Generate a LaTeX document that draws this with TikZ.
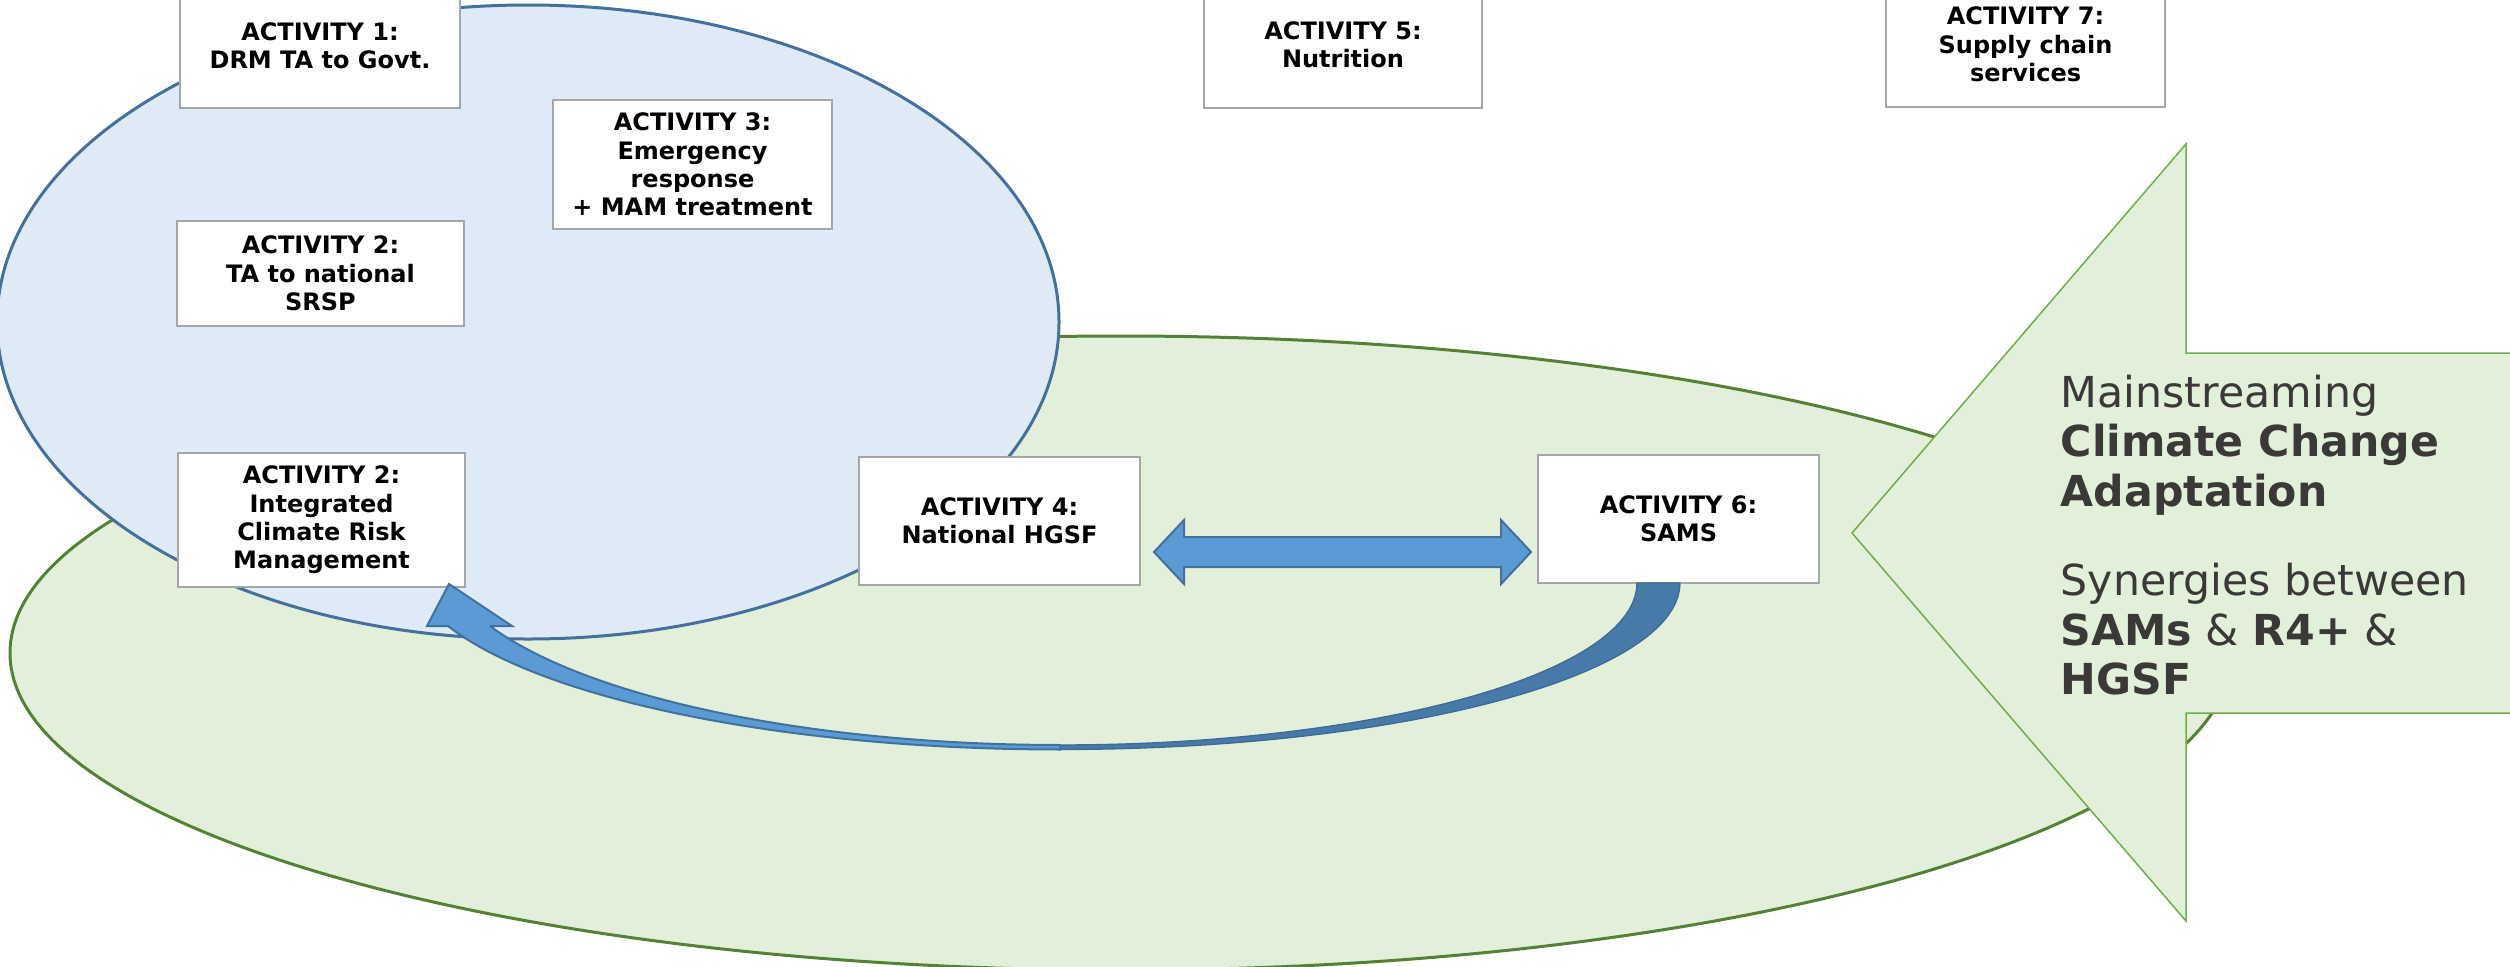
\documentclass[tikz,border=0pt]{standalone}
\usepackage{fontspec}
\usetikzlibrary{calc}
\setmainfont{DejaVu Sans}
\definecolor{blueFill}{HTML}{DEEBF7}
\definecolor{blueLine}{HTML}{41719C}
\definecolor{greenFill}{HTML}{E2F0D9}
\definecolor{greenLine}{HTML}{548235}
\definecolor{arrGreenLine}{HTML}{70AD47}
\definecolor{boxGray}{HTML}{A6A6A6}
\definecolor{arrBlue}{HTML}{5B9BD5}
\definecolor{arrDark}{HTML}{477AA8}
\definecolor{txtGray}{HTML}{3B3838}
\tikzset{
  actbox/.style={draw=boxGray, line width=0.6pt, fill=white, align=center,
    font=\bfseries\fontsize{7.2pt}{8.5pt}\selectfont, inner sep=0pt},
  blueshape/.style={fill=arrBlue, draw=blueLine, line width=0.6pt, line join=miter},
}
\begin{document}
\begin{tikzpicture}[x=0.3pt,y=-0.3pt]
\useasboundingbox (0,0) rectangle (2510,966);
\clip (0,0) rectangle (2510,966);
% ellipses
\draw[fill=greenFill, draw=greenLine, line width=0.9pt] (1121,653) ellipse [x radius=1111, y radius=317];
\draw[fill=blueFill, draw=blueLine, line width=0.9pt] (528,322) ellipse [x radius=531, y radius=317];
% activity boxes
\node[actbox, minimum width=84pt, minimum height=37.5pt] (a1) at (320,45.5) {ACTIVITY 1:\\DRM TA to Govt.};
\node[actbox, minimum width=83.4pt, minimum height=37.5pt] (a5) at (1343,45) {ACTIVITY 5:\\Nutrition};
\node[actbox, minimum width=83.7pt, minimum height=37.5pt] (a7) at (2025.5,44.5) {ACTIVITY 7:\\Supply chain\\services};
\node[actbox, minimum width=83.7pt, minimum height=38.7pt] (a3) at (692.5,164.5) {ACTIVITY 3:\\Emergency\\response\\+ MAM treatment};
\node[actbox, minimum width=86.1pt, minimum height=31.5pt] (a2) at (320.5,273.5) {ACTIVITY 2:\\TA to national\\SRSP};
\node[actbox, minimum width=86.1pt, minimum height=40.2pt] (a2b) at (321.5,520) {ACTIVITY 2:\\Integrated\\Climate Risk\\Management};
\node[actbox, minimum width=84.3pt, minimum height=38.4pt] (a4) at (999.5,521) {ACTIVITY 4:\\National HGSF};
\node[actbox, minimum width=84.3pt, minimum height=38.4pt] (a6) at (1678.5,519) {ACTIVITY 6:\\SAMS};
% double arrow between activity 4 and 6
\coordinate (dl) at ($(a4.east)+(13,31)$);
\coordinate (dr) at ($(a6.west)+(-6,33)$);
\path[blueshape] (dl) -- ++(30,-32) -- ++(0,17) -- ($(dr)+(-30,-15)$) -- ++(0,-17) -- (dr)
  -- ++(-30,32) -- ++(0,-17) -- ($(dl)+(30,15)$) -- ++(0,17) -- cycle;
% curved arrow from activity 6 back to activity 2
\coordinate (tailL) at (1637,583);
\path[fill=arrDark, draw=arrDark!88!black, line width=0.4pt]
  (tailL) -- plot[domain=0:90, samples=40] ({1060+577*cos(\x)},{583+162*sin(\x)})
  -- plot[domain=90:0, samples=40] ({1060+620*cos(\x)},{583+166.5*sin(\x)}) -- cycle;
\coordinate (tip) at (449,584);
\path[blueshape]
  (tip) -- (512,626) -- (490,626)
  -- plot[domain=157.1:90, samples=40] ({1060+619*cos(\x)},{550+195*sin(\x)})
  -- plot[domain=90:159.6, samples=40] ({1060+653*cos(\x)},{560+189.5*sin(\x)})
  -- (427,626) -- cycle;
% big green arrow
\path[fill=greenFill, draw=arrGreenLine, line width=0.45pt]
  (1852,533) -- (2186,144) -- (2186,353) -- (2530,353) -- (2530,713) -- (2186,713) -- (2186,921) -- cycle;
\node[anchor=west, inner sep=0pt, align=left, text=txtGray,
  font=\fontsize{12.8pt}{14.85pt}\selectfont] (cca) at (2060,535)
  {Mainstreaming\\\textbf{Climate Change}\\\textbf{Adaptation}\\[11.9pt]Synergies between\\\textbf{SAMs} \& \textbf{R4+} \&\\\textbf{HGSF}};
\end{tikzpicture}
\end{document}
